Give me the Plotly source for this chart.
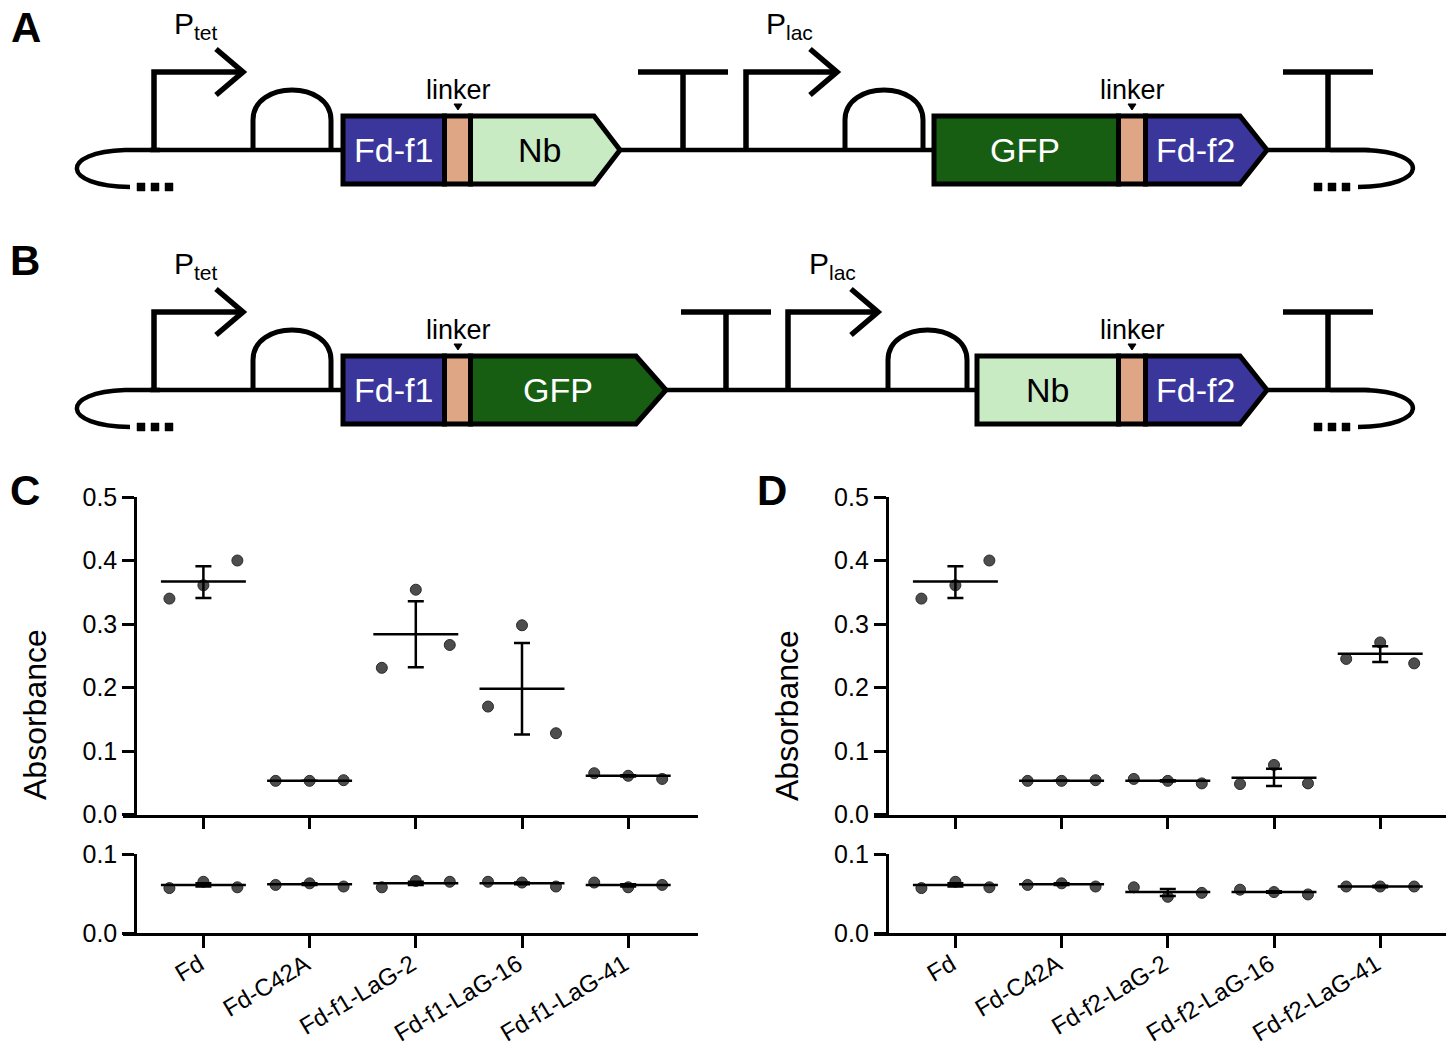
import plotly.graph_objects as go

# ---------------- data ----------------
categories_C = ["Fd", "Fd-C42A", "Fd-f1-LaG-2", "Fd-f1-LaG-16", "Fd-f1-LaG-41"]
categories_D = ["Fd", "Fd-C42A", "Fd-f2-LaG-2", "Fd-f2-LaG-16", "Fd-f2-LaG-41"]

# Panel C, upper plot (0-0.5)
C_top_rep1 = [0.340, 0.053, 0.231, 0.170, 0.065]
C_top_rep2 = [0.361, 0.053, 0.354, 0.298, 0.061]
C_top_rep3 = [0.400, 0.054, 0.267, 0.128, 0.056]
C_top_mean = [0.367, 0.053, 0.284, 0.198, 0.061]
C_top_hi = [0.391, 0.053, 0.336, 0.270, 0.062]
C_top_lo = [0.341, 0.053, 0.232, 0.126, 0.060]

# Panel C, lower plot (0-0.1)
C_bot_rep1 = [0.057, 0.061, 0.058, 0.065, 0.064]
C_bot_rep2 = [0.065, 0.063, 0.066, 0.064, 0.058]
C_bot_rep3 = [0.058, 0.059, 0.065, 0.059, 0.061]
C_bot_mean = [0.061, 0.062, 0.063, 0.063, 0.061]
C_bot_hi = [0.063, 0.063, 0.065, 0.064, 0.062]
C_bot_lo = [0.059, 0.061, 0.061, 0.062, 0.059]

# Panel D, upper plot
D_top_rep1 = [0.340, 0.053, 0.056, 0.048, 0.245]
D_top_rep2 = [0.361, 0.053, 0.053, 0.078, 0.271]
D_top_rep3 = [0.400, 0.054, 0.049, 0.049, 0.238]
D_top_mean = [0.367, 0.053, 0.053, 0.058, 0.253]
D_top_hi = [0.391, 0.053, 0.054, 0.072, 0.265]
D_top_lo = [0.341, 0.053, 0.052, 0.045, 0.240]

# Panel D, lower plot
D_bot_rep1 = [0.057, 0.061, 0.058, 0.055, 0.059]
D_bot_rep2 = [0.065, 0.063, 0.046, 0.052, 0.059]
D_bot_rep3 = [0.058, 0.059, 0.051, 0.049, 0.059]
D_bot_mean = [0.061, 0.062, 0.052, 0.052, 0.059]
D_bot_hi = [0.063, 0.063, 0.056, 0.053, 0.060]
D_bot_lo = [0.059, 0.061, 0.047, 0.051, 0.058]

y_ticks_top = [0.0, 0.1, 0.2, 0.3, 0.4, 0.5]
y_ticks_bot = [0.0, 0.1]

# ---------------- style / layout helpers ----------------
# page has an 8px body margin; figure is sized to fit the 1454x1055 window
OX, OY = 8, 8
FW, FH = 1438, 1039
FONT = "Liberation Sans, Arial, sans-serif"
BLUE = "#3b369c"
DKGREEN = "#175d12"
LTGREEN = "#c8ebc3"
LINKER = "#dfa685"
PT = "#4d4d4d"


def X(v):
    return (v - OX) / FW


def Y(v):
    return 1 - (v - OY) / FH


shapes = []
annotations = []


def path(cmds, width=5, fill=None, color="black"):
    parts = []
    for c in cmds:
        op = c[0]
        if op == "Z":
            parts.append("Z")
            continue
        parts.append(op + " " + " ".join(f"{X(a):.5f},{Y(b):.5f}" for a, b in c[1:]))
    shapes.append(dict(type="path", xref="paper", yref="paper", path=" ".join(parts),
                       line=dict(color=color, width=width),
                       fillcolor=fill if fill else "rgba(0,0,0,0)", layer="above"))


def poly(pts, width=5, fill=None):
    cmds = [("M", pts[0])] + [("L", p) for p in pts[1:]] + [("Z",)]
    path(cmds, width=width, fill=fill)


def text(x, y, s, size, color="black", xanchor="center", yanchor="middle", angle=0):
    annotations.append(dict(x=X(x), y=Y(y), xref="paper", yref="paper", text=s, showarrow=False,
                            font=dict(size=size, color=color, family=FONT),
                            xanchor=xanchor, yanchor=yanchor, textangle=angle))


def promoter(x, yb, x_end, label_x, label):
    top = yb - 78
    path([("M", (x, yb)), ("L", (x, top)), ("L", (x_end - 2, top))], width=5.5)
    path([("M", (x_end - 27, top - 23)), ("L", (x_end, top)), ("L", (x_end - 27, top + 23))], width=5.5)
    text(label_x, yb - 125, label, 30)


def rbs(x0, x1, yb):
    path([("M", (x0, yb)), ("L", (x0, yb - 30)), ("C", (x0, yb - 70), (x1, yb - 70), (x1, yb - 30)),
          ("L", (x1, yb))], width=5)


def terminator(x, yb):
    path([("M", (x, yb)), ("L", (x, yb - 78))], width=5.5)
    path([("M", (x - 45, yb - 78)), ("L", (x + 45, yb - 78))], width=5.5)


def cds(parts, yb, shoulder, tip):
    yt, ybot = yb - 34, yb + 34
    for (x0, x1, col) in parts[:-1]:
        poly([(x0, yt), (x1, yt), (x1, ybot), (x0, ybot)], fill=col)
    x0, _, col = parts[-1]
    poly([(x0, yt), (shoulder, yt), (tip, yb), (shoulder, ybot), (x0, ybot)], fill=col)


def linker_label(x, yb):
    text(x, yb - 60, "linker", 27)
    poly([(x - 4, yb - 46), (x + 4, yb - 46), (x, yb - 40)], width=1, fill="black")


def loops(yb):
    path([("M", (160, yb)), ("L", (125, yb)), ("C", (60, yb + 2), (60, yb + 36), (130, yb + 37))], width=4.5)
    path([("M", (1330, yb)), ("L", (1365, yb)), ("C", (1430, yb + 2), (1430, yb + 36), (1358, yb + 37))], width=4.5)
    for cx in (141, 155, 169, 1318, 1332, 1346):
        poly([(cx - 4, yb + 33), (cx + 4, yb + 33), (cx + 4, yb + 41), (cx - 4, yb + 41)], width=0.5, fill="black")


BOX_FS = 34


def construct(yb, part1, part2):
    path([("M", (150, yb)), ("L", (1370, yb))], width=4.5)
    loops(yb)
    promoter(154, yb, part1["p_end"], 196, "P<sub>tet</sub>")
    rbs(253, 331, yb)
    cds(part1["parts"], yb, part1["shoulder"], part1["tip"])
    for (tx, s, col) in part1["labels"]:
        text(tx, yb, s, BOX_FS, color=col)
    linker_label(458, yb)
    terminator(part1["term"], yb)
    promoter(part2["prom"], yb, part2["p_end"], part2["plab"], "P<sub>lac</sub>")
    rbs(part2["rbs"][0], part2["rbs"][1], yb)
    cds(part2["parts"], yb, 1240, 1267)
    for (tx, s, col) in part2["labels"]:
        text(tx, yb, s, BOX_FS, color=col)
    linker_label(1132, yb)
    terminator(1328, yb)


# Panel A
construct(150,
          dict(parts=[(343, 444.5, BLUE), (444.5, 470.5, LINKER), (470.5, None, LTGREEN)],
               shoulder=594, tip=620, p_end=243, term=683,
               labels=[(393, "Fd-f1", "white"), (539, "Nb", "black")]),
          dict(prom=746, p_end=837, plab=789, rbs=(845, 923),
               parts=[(934, 1118.5, DKGREEN), (1118.5, 1145.5, LINKER), (1145.5, None, BLUE)],
               labels=[(1025, "GFP", "white"), (1195, "Fd-f2", "white")]))
# Panel B
construct(390,
          dict(parts=[(343, 444.5, BLUE), (444.5, 470.5, LINKER), (470.5, None, DKGREEN)],
               shoulder=636, tip=666, p_end=243, term=726,
               labels=[(393, "Fd-f1", "white"), (558, "GFP", "white")]),
          dict(prom=788, p_end=878, plab=832, rbs=(888, 967),
               parts=[(977, 1118.5, LTGREEN), (1118.5, 1145.5, LINKER), (1145.5, None, BLUE)],
               labels=[(1047, "Nb", "black"), (1195, "Fd-f2", "white")]))

# panel letters
for (lx, ly, s) in [(26, 27, "A"), (25, 260, "B"), (25, 490, "C"), (772, 490, "D")]:
    text(lx, ly, f"<b>{s}</b>", 42)

# y-axis titles
text(35, 715, "Absorbance", 32, angle=-90)
text(787, 715, "Absorbance", 32, angle=-90)

# ---------------- data plots ----------------
fig = go.Figure()

OFFS = [-0.32, 0.0, 0.32]
HALF = 0.40


def add_group(xa, ya, reps, mean, hi, lo):
    n = len(mean)
    for off, rep in zip(OFFS, reps):
        fig.add_trace(go.Scatter(x=[i + off for i in range(n)], y=rep, mode="markers", xaxis=xa, yaxis=ya,
                                 marker=dict(size=11, color=PT, line=dict(color="#2a2a2a", width=1)),
                                 cliponaxis=False, hoverinfo="skip"))
    lx, ly = [], []
    for i, m in enumerate(mean):
        lx += [i - HALF, i + HALF, None]
        ly += [m, m, None]
    fig.add_trace(go.Scatter(x=lx, y=ly, mode="lines", xaxis=xa, yaxis=ya,
                             line=dict(color="black", width=2.5), hoverinfo="skip"))
    fig.add_trace(go.Scatter(x=list(range(n)), y=mean, mode="markers", xaxis=xa, yaxis=ya,
                             marker=dict(size=1, color="rgba(0,0,0,0)"),
                             error_y=dict(type="data", symmetric=False,
                                          array=[h - m for h, m in zip(hi, mean)],
                                          arrayminus=[m - l for m, l in zip(mean, lo)],
                                          width=8, thickness=2.5, color="black"),
                             hoverinfo="skip"))


add_group("x", "y", [C_top_rep1, C_top_rep2, C_top_rep3], C_top_mean, C_top_hi, C_top_lo)
add_group("x2", "y2", [C_bot_rep1, C_bot_rep2, C_bot_rep3], C_bot_mean, C_bot_hi, C_bot_lo)
add_group("x3", "y3", [D_top_rep1, D_top_rep2, D_top_rep3], D_top_mean, D_top_hi, D_top_lo)
add_group("x4", "y4", [D_bot_rep1, D_bot_rep2, D_bot_rep3], D_bot_mean, D_bot_hi, D_bot_lo)

axis_common = dict(showline=True, linecolor="black", linewidth=2.5, ticks="outside", ticklen=12,
                   tickwidth=2.5, tickcolor="black", showgrid=False, zeroline=False, automargin=False,
                   tickfont=dict(family=FONT, size=25, color="black"), fixedrange=True)

TICK0_C, TICK0_D, STEP = 203.4, 955.4, 106.2


def xaxis(domain_px, tick0, cats, show, anchor):
    return dict(axis_common, domain=[X(domain_px[0]), X(domain_px[1])],
                range=[(domain_px[0] - tick0) / STEP, (domain_px[1] - tick0) / STEP],
                tickvals=list(range(len(cats))), ticktext=cats, showticklabels=show,
                tickangle=-31, anchor=anchor, ticklabelstandoff=-7, ticklabelshift=-4,
                tickfont=dict(family=FONT, size=24, color="black"))


def yaxis(dom_px, pos_px, rng, ticks):
    return dict(axis_common, domain=[Y(dom_px[0]), Y(dom_px[1])], range=rng,
                tickvals=ticks, ticktext=[f"{t:.1f}" for t in ticks], anchor="free", position=X(pos_px))


fig.update_layout(
    width=FW, height=FH, margin=dict(l=0, r=0, t=0, b=0, autoexpand=False),
    paper_bgcolor="white", plot_bgcolor="rgba(0,0,0,0)", showlegend=False,
    xaxis=xaxis((123, 698), TICK0_C, categories_C, False, "y"),
    yaxis=yaxis((814.5, 497), 135, [0, 0.5], y_ticks_top),
    xaxis2=xaxis((123, 698), TICK0_C, categories_C, True, "y2"),
    yaxis2=yaxis((933.3, 854), 135, [0, 0.1], y_ticks_bot),
    xaxis3=xaxis((874, 1446), TICK0_D, categories_D, False, "y3"),
    yaxis3=yaxis((814.5, 497), 886.6, [0, 0.5], y_ticks_top),
    xaxis4=xaxis((874, 1446), TICK0_D, categories_D, True, "y4"),
    yaxis4=yaxis((933.3, 854), 886.6, [0, 0.1], y_ticks_bot),
    shapes=shapes, annotations=annotations,
)

fig.write_html("out.html")
